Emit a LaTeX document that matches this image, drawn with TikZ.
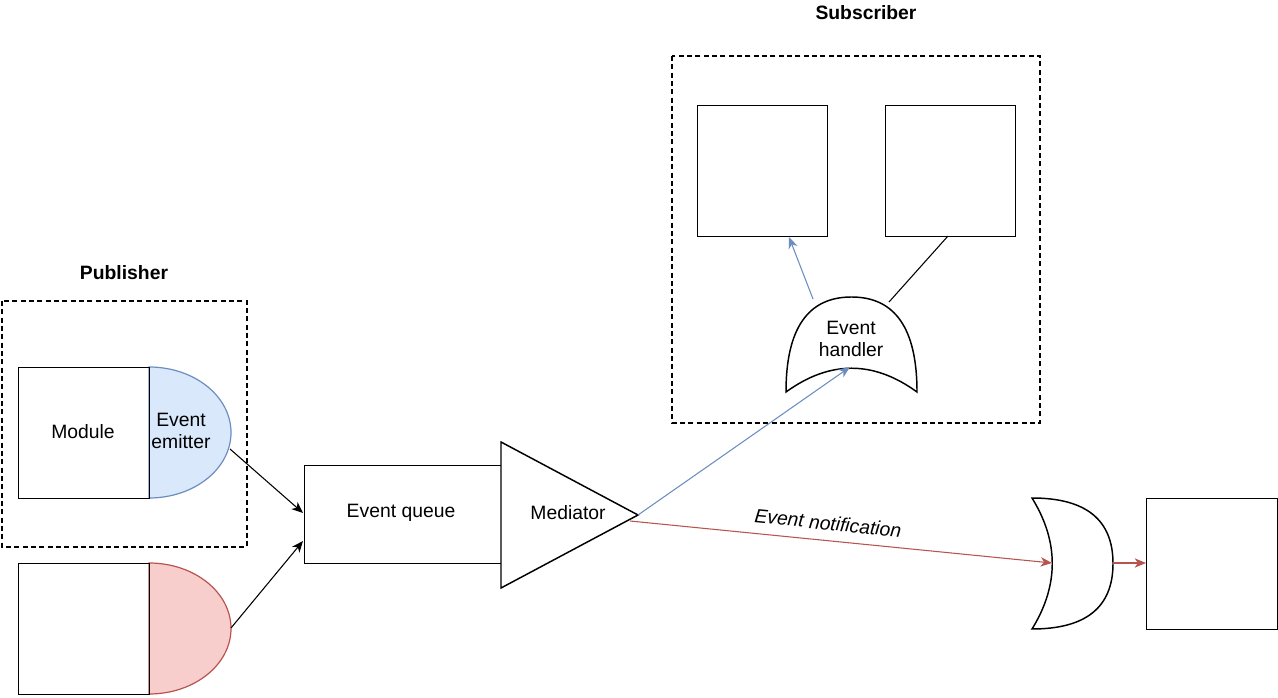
\documentclass[tikz,border=0pt]{standalone}
\usepackage{fontspec}
\setmainfont{Liberation Sans}
\usetikzlibrary{arrows.meta}
\definecolor{bluefill}{HTML}{DAE8FC}
\definecolor{bluestroke}{HTML}{6C8EBF}
\definecolor{redfill}{HTML}{F8CECC}
\definecolor{redstroke}{HTML}{B85450}
\begin{document}
\begin{tikzpicture}[x=0.75pt,y=-0.75pt,
  font=\fontsize{14.5}{16.5}\selectfont,
  sq/.style={draw, line width=1.1pt, minimum width=98.25pt, minimum height=98.25pt, anchor=north west, inner sep=0pt},
  grp/.style={draw, line width=0.9pt, dash pattern=on 3.75pt off 2.5pt},
  gate/.style={draw, line width=1.1pt},
  lbl/.style={inner sep=1pt, align=center},
  arr/.style={line width=0.8pt, -{Stealth[length=8.5pt, width=7pt, inset=2.5pt]}},
]
\useasboundingbox (0,0) rectangle (1278,698);

% group frames
\draw[grp] (2,301) rectangle (247,547);
\draw[grp] (672,56) rectangle (1040,423);
\node[font=\fontsize{14.5}{16.5}\selectfont\bfseries] (pubt) at (124,273) {Publisher};
\node[font=\fontsize{14.5}{16.5}\selectfont\bfseries] (subt) at (866,13) {Subscriber};

% emitters
\draw[line width=0.9pt, draw=bluestroke, fill=bluefill] (149,367) .. controls (194.3,367) and (231,396.3) .. (231,432.5)
   .. controls (231,468.7) and (194.3,498) .. (149,498) -- cycle;
\draw[line width=0.9pt, draw=redstroke, fill=redfill] (149,563) .. controls (194.3,563) and (231,592.3) .. (231,628.5)
   .. controls (231,664.7) and (194.3,694) .. (149,694) -- cycle;
\node[lbl] (emt) at (181,431) {Event\\emitter};

% modules
\node[sq] (mod) at (18,367) {};
\node[lbl] (modt) at (83,432) {Module};
\node[sq] (mod2) at (18,563) {};

% queue and mediator
\node[draw, line width=1.1pt, anchor=north west, minimum width=147.75pt, minimum height=73.5pt, inner sep=0pt] (queue) at (304,465) {};
\node[lbl] (queuet) at (401,513) {Event queue};
\draw[gate, fill=white] (501,442) -- (638,515) -- (501,588) -- cycle;
\node[lbl] (medt) at (568,513) {Mediator};

% subscriber boxes
\node[sq, minimum width=97.5pt] (b1) at (697,105) {};
\node[sq, minimum width=97.5pt] (b2) at (885,105) {};

% event handler (OR gate pointing up)
\draw[gate, fill=white] (786,392) .. controls (786,328.7) and (807.8,297) .. (851.5,297)
   .. controls (895.2,297) and (917,328.7) .. (917,392)
   .. controls (873.3,360.3) and (829.7,360.3) .. (786,392) -- cycle;
\node[lbl] (eht) at (851,339) {Event\\handler};

% OR gate right
\draw[gate, fill=white] (1032,498) .. controls (1086,498) and (1113,519.8) .. (1113,563.5)
   .. controls (1113,607.2) and (1086,629) .. (1032,629)
   .. controls (1059,585.3) and (1059,541.7) .. (1032,498) -- cycle;
\node[sq] (rb) at (1146,498) {};

% connector end points
\coordinate (em1) at (230,449);
\coordinate (em2) at (231,628);
\coordinate (qin1) at (303,513);
\coordinate (qin2) at (303,541);
\coordinate (medtip) at (638,515);
\coordinate (medtip2) at (630,521);
\coordinate (ehin) at (850,367);
\coordinate (ehtop) at (813,299);
\coordinate (ehr) at (889,302);
\coordinate (b1in) at (789,237);
\coordinate (b2in) at (948,236);
\coordinate (orin) at (1052,563);
\coordinate (orout) at (1113,563);

% connectors
\draw[arr] (em1) -- (qin1);
\draw[arr] (em2) -- (qin2);
\draw[arr, draw=bluestroke] (medtip) -- (ehin);
\draw[arr, draw=bluestroke] (ehtop) -- (b1in);
\draw[line width=0.8pt] (ehr) -- (b2in);
\draw[arr, draw=redstroke] (medtip2) -- (orin);
\draw[arr, draw=redstroke, line width=1pt] (orout) -- (rb.west |- orout);
\node[font=\fontsize{14.5}{16.5}\selectfont\itshape, rotate=-5.7] (note) at (828,523) {Event notification};
\end{tikzpicture}
\end{document}
